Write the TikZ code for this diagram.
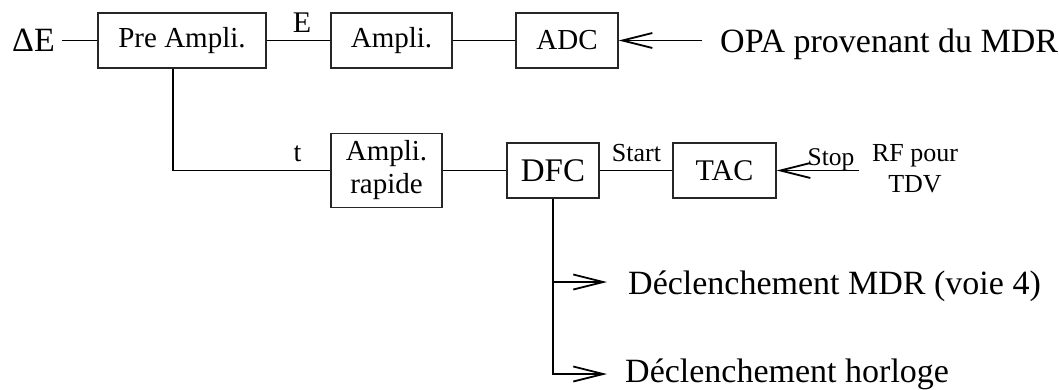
\documentclass[tikz,border=0pt]{standalone}
\usepackage{fontspec}
\setmainfont{Liberation Serif}
\usetikzlibrary{arrows.meta, positioning}

\begin{document}
\begin{tikzpicture}[
    x=1pt, y=-1pt,
    % ── shared styles ───────────────────────────────────────────────
    block/.style={
        rectangle, draw=black!85, line width=1.2pt,
        minimum height=55pt, inner sep=2pt,
        font=\fontsize{29}{33}\selectfont,
        align=center,
    },
    big text/.style={
        inner sep=0pt, font=\fontsize{34}{36}\selectfont,
    },
    small text/.style={
        inner sep=0pt, font=\fontsize{26}{31}\selectfont,
        align=center,
    },
    wire/.style={line width=1.8pt},
    sig/.style={
        wire, -{Straight Barb[length=30pt,width=15pt]},
    },
]
\useasboundingbox (0,0) rectangle (1059,389);

% =============================================================
%  ENERGY CHAIN (top row)
% =============================================================
\node[big text] (dE) at (33.5,40.5) {ΔE};
\node[block, minimum width=168pt] (pre) at (182,40.5) {Pre Ampli.};
\node[block, minimum width=121pt] (ampli) at (391.5,40.5) {Ampli.};
\node[block, minimum width=102pt] (adc) at (567,40.5) {ADC};
\node[big text, anchor=base west] (opa) at (720,52) {OPA provenant du MDR};
\coordinate (opaIn) at (702,40.5);

\node[small text, font=\fontsize{30}{30}\selectfont, anchor=base] (lblE) at (302,32) {E};

% =============================================================
%  TIME CHAIN (bottom row)
% =============================================================
\node[block, minimum width=111pt, minimum height=74pt] (rapide) at (386.5,170.5) {Ampli.\\rapide};
\node[block, minimum width=92pt, font=\fontsize{33}{36}\selectfont] (dfc) at (553,170.5) {DFC};
\node[block, minimum width=103pt, font=\fontsize{30}{33}\selectfont] (tac) at (724.5,170.5) {TAC};
\node[small text, anchor=center] (rf) at (915,169) {RF pour\\TDV};
\coordinate (rfIn) at (859,170.5);

\node[small text, font=\fontsize{28}{30}\selectfont, anchor=base] (lblT) at (297.5,161) {t};
\node[small text, anchor=base] (lblStart) at (636.5,161) {Start};
\node[small text, font=\fontsize{25.5}{30}\selectfont, anchor=base] (lblStop) at (831,165) {Stop};

% Triggers
\node[big text, anchor=base west] (trigA) at (628,294) {Déclenchement MDR (voie 4)};
\node[big text, anchor=base west] (trigB) at (625,382) {Déclenchement horloge};
\coordinate (trgA) at (607,282);
\coordinate (trgB) at (607,374);

% Connection lines
\draw[wire] ([xshift=7pt]dE.east) -- (pre.west);
\draw[wire] (pre.east) -- (ampli.west);
\draw[wire] (ampli.east) -- (adc.west);
\draw[sig] (opaIn) -- (adc.east);

\draw[wire] ([xshift=-9pt]pre.south) |- (rapide.west);
\draw[wire] (rapide.east) -- (dfc.west);
\draw[wire] (dfc.east) -- (tac.west);
\draw[sig] (rfIn) -- (tac.east);

\draw[sig] (dfc.south) |- (trgA);
\draw[sig] (dfc.south) |- (trgB);

\end{tikzpicture}
\end{document}
